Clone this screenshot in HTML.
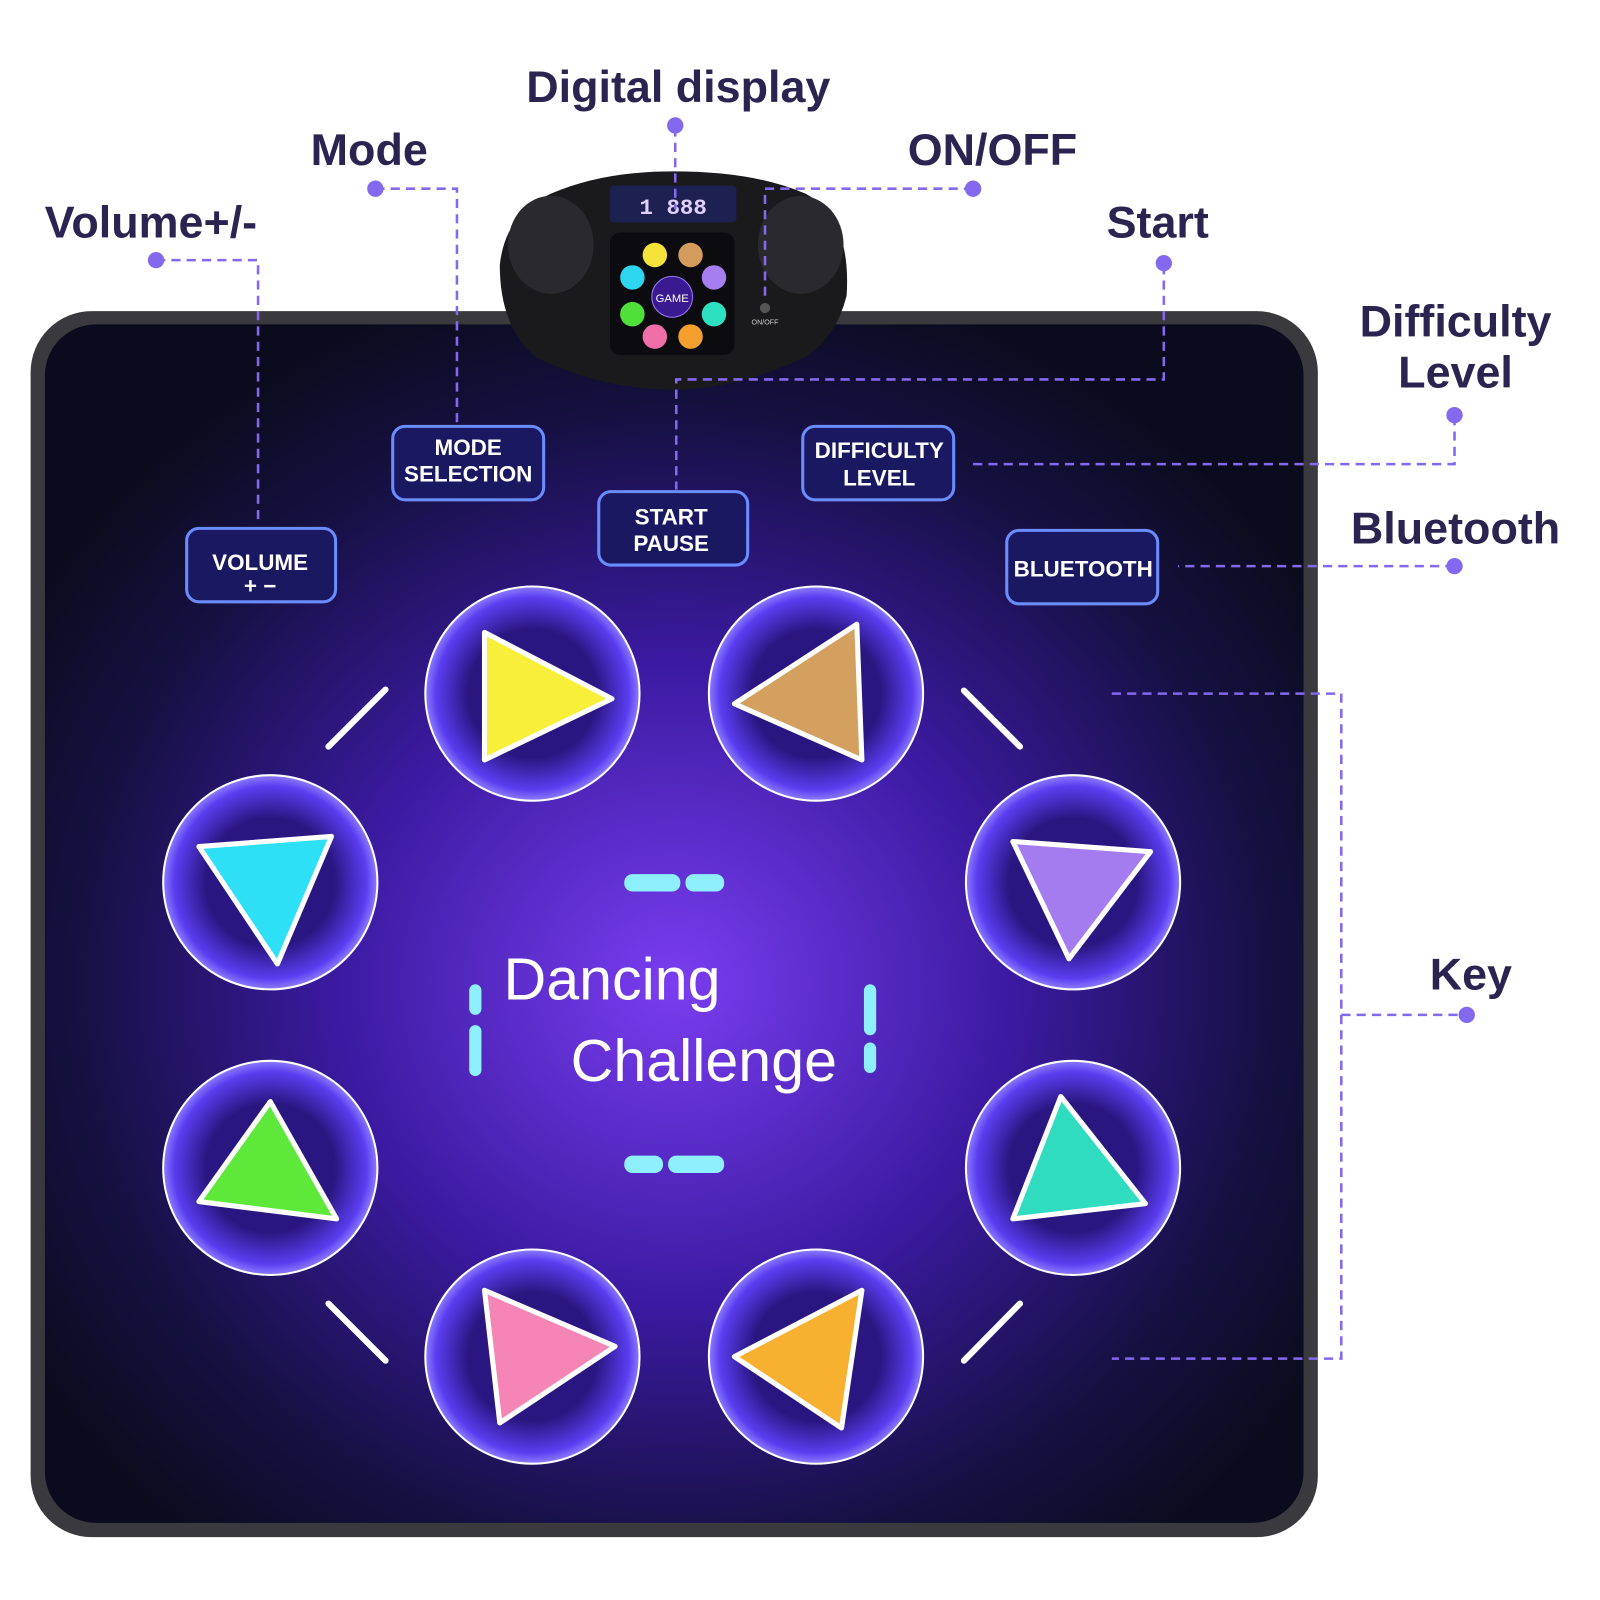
<!DOCTYPE html>
<html><head><meta charset="utf-8"><style>
html,body{margin:0;padding:0;background:#fff}
svg{display:block}
.lbl{font-family:"Liberation Sans",sans-serif;font-weight:bold;fill:#2c2450}
.btn{font-family:"Liberation Sans",sans-serif;font-weight:bold;fill:#fff;font-size:22px}
.ln{stroke:#8468ee;stroke-width:2.5;stroke-dasharray:9 6;fill:none}
</style></head><body>
<svg width="1600" height="1600" viewBox="0 0 1600 1600" xmlns="http://www.w3.org/2000/svg">
<defs>
<radialGradient id="g" cx="0.5" cy="0.55" r="0.6">
<stop offset="0" stop-color="#7a3df0"/><stop offset="0.45" stop-color="#3a1aa0"/><stop offset="0.8" stop-color="#151040"/><stop offset="1" stop-color="#0c0b1e"/>
</radialGradient>
<radialGradient id="c" cx="0.5" cy="0.5" r="0.5">
<stop offset="0.6" stop-color="#2a1680"/><stop offset="0.9" stop-color="#5a3df0"/><stop offset="1" stop-color="#8e7cff"/>
</radialGradient>
</defs>
<g transform="scale(1.02)">
<rect x="30" y="305" width="1262" height="1202" rx="60" fill="#3a3a3e"/>
<rect x="44" y="318" width="1234" height="1175" rx="50" fill="url(#g)"/>
<path d="M540 190 Q590 168 660 168 Q740 168 790 190 Q835 215 830 290 Q820 330 790 350 Q720 382 660 382 Q590 382 525 350 Q490 320 490 260 Q495 210 540 190Z" fill="#1a1a1c"/>
<ellipse cx="540" cy="240" rx="42" ry="48" fill="#2a2a2e"/>
<ellipse cx="785" cy="240" rx="42" ry="48" fill="#2a2a2e"/>
<rect x="598" y="182" width="124" height="36" rx="4" fill="#1d2050"/>
<text x="660" y="210" text-anchor="middle" fill="#e0d0ff" font-family="Liberation Mono,monospace" font-size="22" font-weight="bold">1 888</text>
<rect x="598" y="228" width="122" height="120" rx="10" fill="#0c0c10"/>
<circle cx="659" cy="291" r="20" fill="#3a1a90" stroke="#9a7aff"/>
<text x="659" y="296" text-anchor="middle" fill="#fff" font-family="Liberation Sans,sans-serif" font-size="11">GAME</text>
<circle cx="642" cy="250" r="12" fill="#f5e23a"/><circle cx="677" cy="250" r="12" fill="#d39c5c"/>
<circle cx="620" cy="272" r="12" fill="#2ed6f0"/><circle cx="700" cy="272" r="12" fill="#a77ef0"/>
<circle cx="620" cy="308" r="12" fill="#4fe03a"/><circle cx="700" cy="308" r="12" fill="#2ee0c0"/>
<circle cx="642" cy="330" r="12" fill="#f06fa8"/><circle cx="677" cy="330" r="12" fill="#f5a02e"/>
<circle cx="750" cy="302" r="5" fill="#555"/>
<text x="750" y="318" text-anchor="middle" fill="#ccc" font-family="Liberation Sans,sans-serif" font-size="7">ON/OFF</text>
<text class="lbl" x="665" y="100" font-size="44" text-anchor="middle">Digital display</text>
<text class="lbl" x="362" y="162" font-size="44" text-anchor="middle">Mode</text>
<text class="lbl" x="973" y="162" font-size="44" text-anchor="middle">ON/OFF</text>
<text class="lbl" x="148" y="233" font-size="44" text-anchor="middle">Volume+/-</text>
<text class="lbl" x="1135" y="233" font-size="44" text-anchor="middle">Start</text>
<text class="lbl" x="1427" y="330" font-size="44" text-anchor="middle">Difficulty</text>
<text class="lbl" x="1427" y="380" font-size="44" text-anchor="middle">Level</text>
<text class="lbl" x="1427" y="533" font-size="44" text-anchor="middle">Bluetooth</text>
<text class="lbl" x="1442" y="970" font-size="44" text-anchor="middle">Key</text>
<g class="ln">
<path d="M662 125 V205"/><path d="M368 185 H448 V415"/><path d="M954 185 H750 V290"/>
<path d="M153 255 H253 V515"/><path d="M1141 260 V372 H663 V480"/>
<path d="M1426 408 V455 H952"/><path d="M1426 555 H1155"/>
<path d="M1090 680 H1315 V1332 H1090"/><path d="M1315 995 H1438"/>
</g>
<g fill="#8468ee"><circle cx="662" cy="123" r="8"/><circle cx="368" cy="185" r="8"/><circle cx="954" cy="185" r="8"/><circle cx="153" cy="255" r="8"/><circle cx="1141" cy="258" r="8"/><circle cx="1426" cy="407" r="8"/><circle cx="1426" cy="555" r="8"/><circle cx="1438" cy="995" r="8"/></g>
<g fill="#1a1860" stroke="#6a8cff" stroke-width="3">
<rect x="385" y="418" width="148" height="72" rx="12"/><rect x="587" y="482" width="146" height="72" rx="12"/>
<rect x="787" y="418" width="148" height="72" rx="12"/><rect x="183" y="518" width="146" height="72" rx="12"/>
<rect x="987" y="520" width="148" height="72" rx="12"/>
</g>
<text class="btn" x="459" y="446" text-anchor="middle">MODE</text><text class="btn" x="459" y="472" text-anchor="middle">SELECTION</text>
<text class="btn" x="658" y="514" text-anchor="middle">START</text><text class="btn" x="658" y="540" text-anchor="middle">PAUSE</text>
<text class="btn" x="862" y="449" text-anchor="middle">DIFFICULTY</text><text class="btn" x="862" y="476" text-anchor="middle">LEVEL</text>
<text class="btn" x="255" y="559" text-anchor="middle">VOLUME</text><text class="btn" x="255" y="582" text-anchor="middle">+ −</text>
<text class="btn" x="1062" y="565" text-anchor="middle">BLUETOOTH</text>
<g stroke="#fff" stroke-width="2">
<circle cx="522" cy="680" r="105" fill="url(#c)"/><circle cx="800" cy="680" r="105" fill="url(#c)"/>
<circle cx="265" cy="865" r="105" fill="url(#c)"/><circle cx="1052" cy="865" r="105" fill="url(#c)"/>
<circle cx="265" cy="1145" r="105" fill="url(#c)"/><circle cx="1052" cy="1145" r="105" fill="url(#c)"/>
<circle cx="522" cy="1330" r="105" fill="url(#c)"/><circle cx="800" cy="1330" r="105" fill="url(#c)"/>
</g>
<g stroke="#fff" stroke-width="5" stroke-linejoin="round">
<polygon points="475,620 475,745 600,685" fill="#f7ef3a"/>
<polygon points="840,612 845,745 720,690" fill="#d4a060"/>
<polygon points="195,830 325,820 272,945" fill="#2ee0f5"/>
<polygon points="993,825 1128,835 1048,940" fill="#a47cf0"/>
<polygon points="265,1080 330,1195 195,1178" fill="#5ee83a"/>
<polygon points="1040,1075 1123,1180 993,1195" fill="#30dcc0"/>
<polygon points="475,1265 490,1395 603,1320" fill="#f585b4"/>
<polygon points="845,1265 825,1400 720,1330" fill="#f7b030"/>
</g>
<g fill="#8ef0ff"><rect x="612" y="857" width="55" height="17" rx="8"/><rect x="672" y="857" width="38" height="17" rx="8"/>
<rect x="612" y="1133" width="38" height="17" rx="8"/><rect x="655" y="1133" width="55" height="17" rx="8"/>
<rect x="460" y="965" width="12" height="30" rx="6"/><rect x="460" y="1005" width="12" height="50" rx="6"/>
<rect x="847" y="965" width="12" height="50" rx="6"/><rect x="847" y="1022" width="12" height="30" rx="6"/></g>
<text x="600" y="980" text-anchor="middle" fill="#fff" font-family="Liberation Sans,sans-serif" font-size="58">Dancing</text>
<text x="690" y="1060" text-anchor="middle" fill="#fff" font-family="Liberation Sans,sans-serif" font-size="58">Challenge</text>
<g stroke="#fff" stroke-width="6" stroke-linecap="round">
<path d="M322 732 L378 676"/><path d="M945 677 L1000 732"/><path d="M322 1278 L378 1334"/><path d="M945 1334 L1000 1278"/></g>
</g>
</svg>
</body></html>
